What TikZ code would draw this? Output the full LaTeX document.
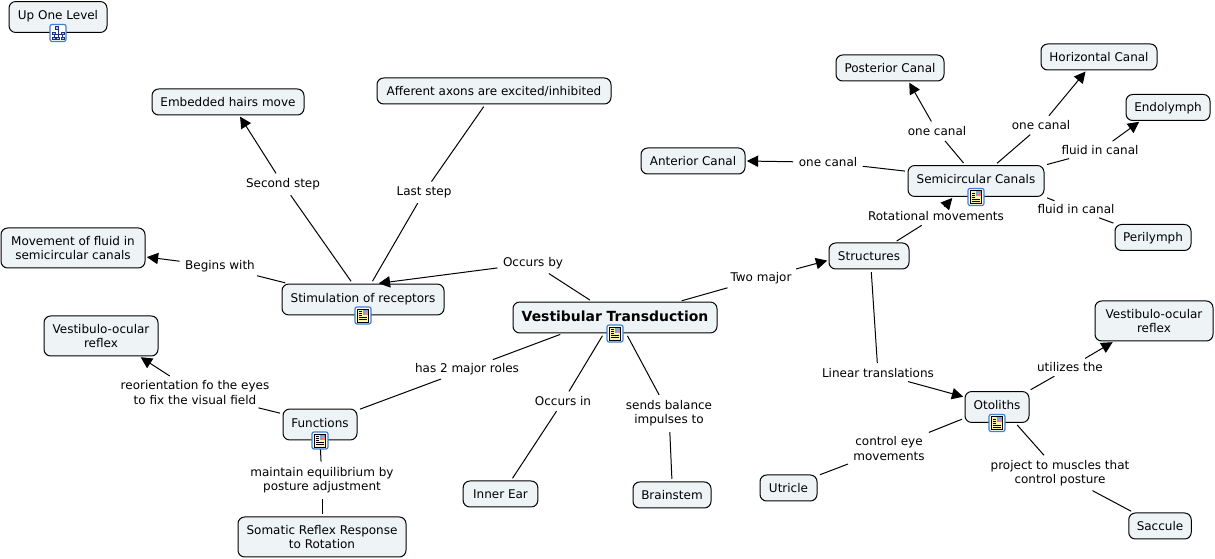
\documentclass[tikz,border=0pt]{standalone}
\usepackage{fontspec}
\setmainfont{DejaVu Sans}
\usetikzlibrary{arrows.meta}
\definecolor{conceptfill}{HTML}{EEF3F6}
\definecolor{iconblue}{HTML}{3F7FCF}
\definecolor{iconpage}{HTML}{FFF4A8}
\definecolor{mapblue}{HTML}{1F2F80}
\tikzset{
	concept/.style={draw=black,fill=conceptfill,rounded corners=5pt,line width=.75pt,align=center,inner xsep=6pt,inner ysep=2pt,font=\fontsize{9}{11}\selectfont},
	oneline/.style={text height=7.6pt,text depth=1.4pt,inner ysep=5.25pt},
	twolines/.style={minimum height=30pt,execute at begin node={\rule{0pt}{9pt}}},
	withicon/.style={text height=13.8pt,text depth=9.4pt,inner ysep=0pt},
	linkname/.style={align=center,inner sep=2pt,yshift=-1pt,font=\fontsize{9}{11}\selectfont},
	link/.style={line width=.75pt,shorten >=2pt,shorten <=2pt},
	linkto/.style={link,shorten >=1pt,-{Triangle[length=8.5pt,width=8.5pt]}},
	pics/noteicon/.style={code={
		\draw[iconblue,fill=white,line width=.9pt,rounded corners=1.5pt] (-8,-8.5) rectangle (8,8.5);
		\draw[black,fill=iconpage,line width=.5pt] (-5.5,-6.5) rectangle (5.5,6.5);
		\fill[iconblue!70] (0,-5.5) rectangle (4.5,-.5);
		\fill[red!50] (2,-3.5) rectangle (4.5,-.5);
		\foreach \k in {-4,-2,0}{\draw[black,line width=.5pt] (-4,\k) to (-1,\k);}
		\foreach \k in {2,4}{\draw[black,line width=.5pt] (-4,\k) to (4,\k);}
	}},
	pics/mapicon/.style={code={
		\draw[iconblue,fill=white,line width=.9pt,rounded corners=1.5pt] (-8,-8.5) rectangle (8,8.5);
		\draw[mapblue,line width=.6pt] (0,-3) to (0,5) (-4,1) to (4,1) (-4,1) to (-4,5) (4,1) to (4,5);
		\foreach \x/\y in {-2.5/-6.5,-6/-1,-6/4,-1.5/4,3/-1,3/4}{\draw[mapblue,line width=.6pt,fill=iconblue!40] (\x,\y) rectangle +(3,2.5);}
	}}
}
\begin{document}
\begin{tikzpicture}[x=.75pt,y=-.75pt]
	\useasboundingbox (0,0) rectangle (1215,559);
	%concepts
	\node[concept,withicon,minimum width=73.5pt] (uplevel) at (58,17) {Up One Level};
	\node[concept,oneline,minimum width=114pt] (hairs) at (228,102) {Embedded hairs move};
	\node[concept,oneline,minimum width=175.5pt] (afferent) at (494,91) {Afferent axons are excited/inhibited};
	\node[concept,twolines,minimum width=108pt] (fluidmove) at (73,248) {Movement of fluid in\\semicircular canals};
	\node[concept,withicon,minimum width=121.5pt] (stimrec) at (363,299.5) {Stimulation of receptors};
	\node[concept,twolines,minimum width=85.5pt] (vorleft) at (101,336) {Vestibulo-ocular\\reflex};
	\node[concept,withicon,minimum width=55.5pt] (functions) at (320,424.5) {Functions};
	\node[concept,twolines,minimum width=126pt] (somatic) at (322,537) {Somatic Reflex Response\\to Rotation};
	\node[concept,oneline,minimum width=56pt] (innerear) at (500.5,494) {Inner Ear};
	\node[concept,oneline,minimum width=58.5pt] (brainstem) at (672,495) {Brainstem};
	\node[concept,withicon,text height=14.6pt,text depth=8.6pt,minimum width=153pt,font=\fontsize{10.45}{13}\selectfont\bfseries] (vesttrans) at (615,317.5) {Vestibular Transduction};
	\node[concept,oneline,minimum width=60pt] (structures) at (869,256) {Structures};
	\node[concept,withicon,minimum width=102pt] (semicanals) at (976,181) {Semicircular Canals};
	\node[concept,oneline,minimum width=78pt] (anterior) at (693,161) {Anterior Canal};
	\node[concept,oneline,minimum width=81pt] (posterior) at (890,68) {Posterior Canal};
	\node[concept,oneline,minimum width=87pt] (horizontal) at (1099,57) {Horizontal Canal};
	\node[concept,oneline,minimum width=63pt] (endolymph) at (1168,107.5) {Endolymph};
	\node[concept,oneline,minimum width=57pt] (perilymph) at (1153,237.5) {Perilymph};
	\node[concept,withicon,minimum width=48pt] (otoliths) at (997,407) {Otoliths};
	\node[concept,twolines,minimum width=88.5pt] (vorright) at (1154,321) {Vestibulo-ocular\\reflex};
	\node[concept,oneline,minimum width=42.75pt] (utricle) at (788.5,488) {Utricle};
	\node[concept,oneline,minimum width=45pt] (saccule) at (1160,526) {Saccule};

	%linking phrases
	\node[linkname] (secondstep) at (283,183) {Second step};
	\node[linkname] (laststep) at (424,191) {Last step};
	\node[linkname] (beginswith) at (220,265) {Begins with};
	\node[linkname] (occursby) at (533,262) {Occurs by};
	\node[linkname] (twomajor) at (761,277) {Two major};
	\node[linkname] (tworoles) at (467,368) {has 2 major roles};
	\node[linkname] (occursin) at (563,400) {Occurs in};
	\node[linkname] (sendsbalance) at (669,412) {sends balance\\impulses to};
	\node[linkname] (reorient) at (195,391) {reorientation fo the eyes\\to fix the visual field};
	\node[linkname] (maintain) at (322,479) {maintain equilibrium by\\posture adjustment};
	\node[linkname] (canalant) at (828,161) {one canal};
	\node[linkname] (canalpost) at (937,130) {one canal};
	\node[linkname] (canalhor) at (1041,124) {one canal};
	\node[linkname] (fluidup) at (1100,149) {fluid in canal};
	\node[linkname] (fluiddown) at (1076,208) {fluid in canal};
	\node[linkname] (rotational) at (936,215) {Rotational movements};
	\node[linkname] (lineartr) at (878,372) {Linear translations};
	\node[linkname] (utilizes) at (1070,366) {utilizes the};
	\node[linkname] (controleye) at (889,447) {control eye\\movements};
	\node[linkname] (projectto) at (1060,472) {project to muscles that\\control posture};

	%connectors
	\draw[link] (stimrec.123) -- (secondstep);
	\draw[linkto] (secondstep) -- (hairs.-50);
	\draw[link] (stimrec.63) -- (laststep);
	\draw[link] (laststep) -- (afferent.237);
	\draw[link] (stimrec.168) -- (beginswith);
	\draw[linkto] (beginswith) -- (fluidmove.-7);
	\draw[link] (vesttrans.145) -- (occursby);
	\draw[linkto] (occursby) -- (stimrec.48);
	\draw[link] (vesttrans.14) -- (twomajor);
	\draw[linkto] (twomajor) -- (structures.186);
	\draw[link] (vesttrans.197) -- (tworoles);
	\draw[link] (tworoles) -- (functions.21);
	\draw[link] (vesttrans.235) -- (occursin);
	\draw[link] (occursin) -- (innerear.52);
	\draw[link] (vesttrans.-55) -- (sendsbalance);
	\draw[link] (sendsbalance) -- (brainstem.north);
	\draw[link] (functions.164) -- (reorient);
	\draw[linkto] (reorient) -- (vorleft.-28);
	\draw[link] (functions.south) -- (maintain);
	\draw[link] (maintain) -- (somatic.north);
	\draw[link] (structures.28) -- (rotational);
	\draw[linkto] (rotational) -- (semicanals.215);
	\draw[link] (semicanals.172) -- (canalant);
	\draw[linkto] (canalant) -- (anterior.east);
	\draw[link] (semicanals.124) -- (canalpost);
	\draw[linkto] (canalpost) -- (posterior.-36);
	\draw[link] (semicanals.40) -- (canalhor);
	\draw[linkto] (canalhor) -- (horizontal.227);
	\draw[link] (semicanals.13) -- (fluidup);
	\draw[linkto] (fluidup) -- (endolymph.206);
	\draw[link] (semicanals.-13) -- (fluiddown);
	\draw[link] (fluiddown) -- (perilymph.160);
	\draw[link] (structures.-81) -- (lineartr);
	\draw[linkto] (lineartr) -- (otoliths.163);
	\draw[link] (otoliths.27) -- (utilizes);
	\draw[linkto] (utilizes) -- (vorright.207);
	\draw[link] (otoliths.199) -- (controleye);
	\draw[link] (controleye) -- (utricle.23);
	\draw[link] (otoliths.-41) -- (projectto);
	\draw[link] (projectto) -- (saccule.153);

	%icons
	\pic at (uplevel.south) {mapicon};
	\pic at (stimrec.south) {noteicon};
	\pic at (functions.south) {noteicon};
	\pic at (vesttrans.south) {noteicon};
	\pic at (semicanals.south) {noteicon};
	\pic at (otoliths.south) {noteicon};
\end{tikzpicture}
\end{document}
